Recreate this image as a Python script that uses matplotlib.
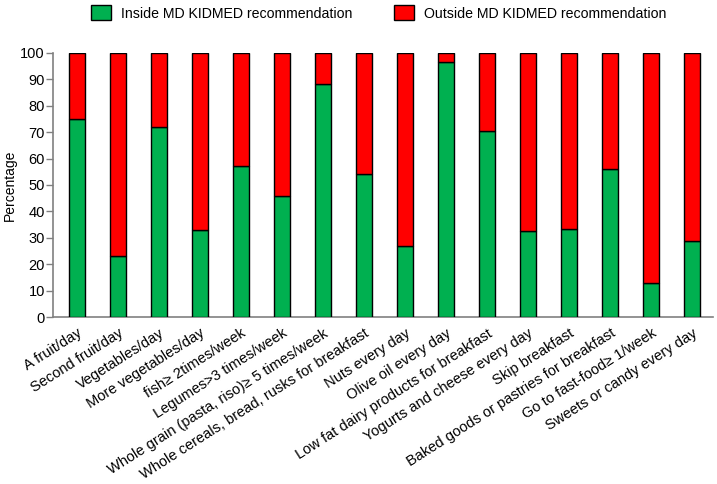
import matplotlib
matplotlib.use("Agg")
import matplotlib.pyplot as plt
from matplotlib.patches import Patch
import numpy as np

plt.rcParams['font.family'] = ['Liberation Sans', 'DejaVu Sans']

categories = [
    "A fruit/day", "Second fruit/day", "Vegetables/day", "More vegetables/day",
    "fish≥ 2times/week", "Legumes>3 times/week", "Whole grain (pasta, riso)≥ 5 times/week",
    "Whole cereals, bread, rusks for breakfast", "Nuts every day", "Olive oil every day",
    "Low fat dairy products for breakfast", "Yogurts and cheese every day", "Skip breakfast",
    "Baked goods or pastries for breakfast", "Go to fast-food≥ 1/week", "Sweets or candy every day",
]
inside = [75, 23, 72, 33, 57, 46, 88, 54, 27, 96.5, 70.5, 32.5, 33.5, 56, 13, 29]
outside = [100 - v for v in inside]
series_names = ["Inside MD KIDMED recommendation", "Outside MD KIDMED recommendation"]
yticks = list(range(0, 101, 10))

green = "#00B050"
red = "#FF0000"

fig = plt.figure(figsize=(7.17, 4.84), dpi=100)
ax = fig.add_axes([53/717, 1 - 317.3/484, (713 - 53)/717, (317.3 - 52.7)/484])

x = np.arange(len(categories))
w = 0.39
ax.bar(x, inside, w, color=green, edgecolor="black", linewidth=1.0, zorder=3)
ax.bar(x, outside, w, bottom=inside, color=red, edgecolor="black", linewidth=1.0, zorder=3)

ax.set_xlim(-0.58, len(categories) - 0.5)
ax.set_ylim(0, 100)
ax.set_yticks(yticks)
ax.tick_params(axis='y', direction='out', length=5, width=1, color="#808080", labelsize=10.5, pad=0.8)
ax.tick_params(axis='x', length=0, labelsize=10.5, pad=6.5)
ax.set_xticks(x)
ax.set_xticklabels(categories, rotation=32.5, ha='right', rotation_mode='anchor')
ax.set_ylabel("Percentage", fontsize=10, labelpad=2.5)

for s in ['top', 'right']:
    ax.spines[s].set_visible(False)
for s in ['left', 'bottom']:
    ax.spines[s].set_color("#808080")
    ax.spines[s].set_linewidth(1.2)

handles = [Patch(facecolor=green, edgecolor="black", linewidth=1.0),
           Patch(facecolor=red, edgecolor="black", linewidth=1.0)]
fig.legend(handles, series_names, loc='center', bbox_to_anchor=(378.5/717, 1 - 13/484),
           ncol=2, frameon=False, fontsize=10.2, handlelength=1.42, handleheight=1.25,
           handletextpad=0.72, columnspacing=2.9, borderpad=0.2)

fig.savefig("out.png", dpi=100)
